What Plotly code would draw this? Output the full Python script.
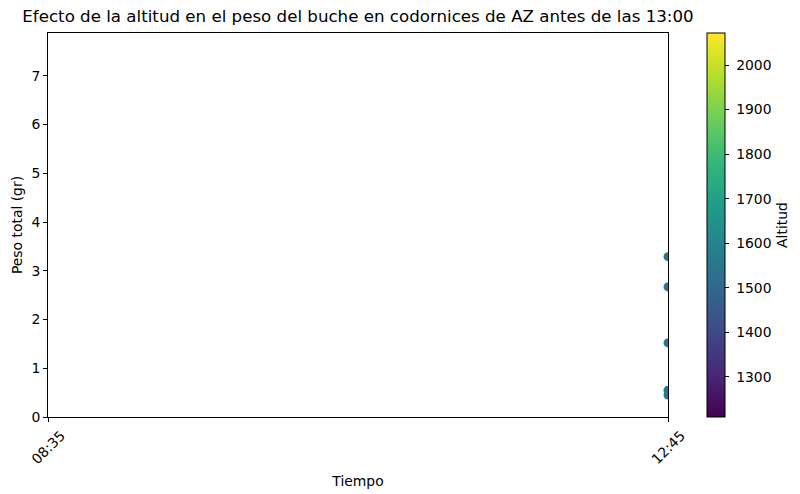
import plotly.graph_objects as go

tiempo_categorias = ["08:35", "12:45"]
tiempo = ["12:45", "12:45", "12:45", "12:45", "12:45"]
peso_total = [3.29, 2.67, 1.52, 0.55, 0.45]
altitud = [1545, 1545, 1545, 1545, 1545]
altitud_min, altitud_max = 1210, 2072
colorbar_ticks = [1300, 1400, 1500, 1600, 1700, 1800, 1900, 2000]

font_family = "DejaVu Sans"
fs = 13.9

fig = go.Figure()
fig.add_trace(go.Scatter(
    x=tiempo, y=peso_total, mode="markers",
    marker=dict(
        size=9, color=altitud, colorscale="Viridis",
        cmin=altitud_min, cmax=altitud_max,
        line=dict(width=0),
        colorbar=dict(
            title=dict(text="Altitud", side="right", font=dict(size=fs, color="black")),
            thickness=18, len=1, lenmode="fraction", y=0.5, yanchor="middle",
            x=1.0629, xanchor="left", xpad=0, ypad=0,
            outlinecolor="black", outlinewidth=1,
            tickmode="array", tickvals=colorbar_ticks,
            ticktext=["\u00a0" + str(v) for v in colorbar_ticks],
            ticks="outside", ticklen=4, tickcolor="black",
            tickfont=dict(size=fs, color="black"),
        ),
    ),
    cliponaxis=True,
    showlegend=False,
))

fig.update_layout(
    width=800, height=494,
    margin=dict(l=48, r=132, t=33, b=77, autoexpand=False),
    paper_bgcolor="white", plot_bgcolor="white",
    font=dict(family=font_family, color="black", size=fs),
    title=dict(
        text="Efecto de la altitud en el peso del buche en codornices de AZ antes de las 13:00",
        x=(48 + 620 / 2) / 800, xanchor="center", y=1 - 16 / 494, yanchor="middle",
        font=dict(size=16.67, color="black"), automargin=False,
    ),
    xaxis=dict(
        type="category", categoryorder="array", categoryarray=tiempo_categorias,
        range=[0, 1], showgrid=False, zeroline=False, automargin=False,
        showline=True, linecolor="black", linewidth=1, mirror=True,
        ticks="outside", ticklen=4, tickcolor="black", tickangle=-45,
        ticklabelshift=13,
        tickfont=dict(size=fs),
        title=dict(text="Tiempo", font=dict(size=fs), standoff=10),
    ),
    yaxis=dict(
        range=[0, 7.88], showgrid=False, zeroline=False, automargin=False,
        showline=True, linecolor="black", linewidth=1, mirror=True,
        ticks="outside", ticklen=4, tickcolor="black",
        tickmode="array", tickvals=[0, 1, 2, 3, 4, 5, 6, 7],
        tickfont=dict(size=fs),
        title=dict(text="Peso total (gr)", font=dict(size=fs), standoff=5),
    ),
)

fig.write_html(
    "out.html",
    config={"displayModeBar": False},
    post_script="document.body.style.margin='0';document.body.style.overflow='hidden';",
)
